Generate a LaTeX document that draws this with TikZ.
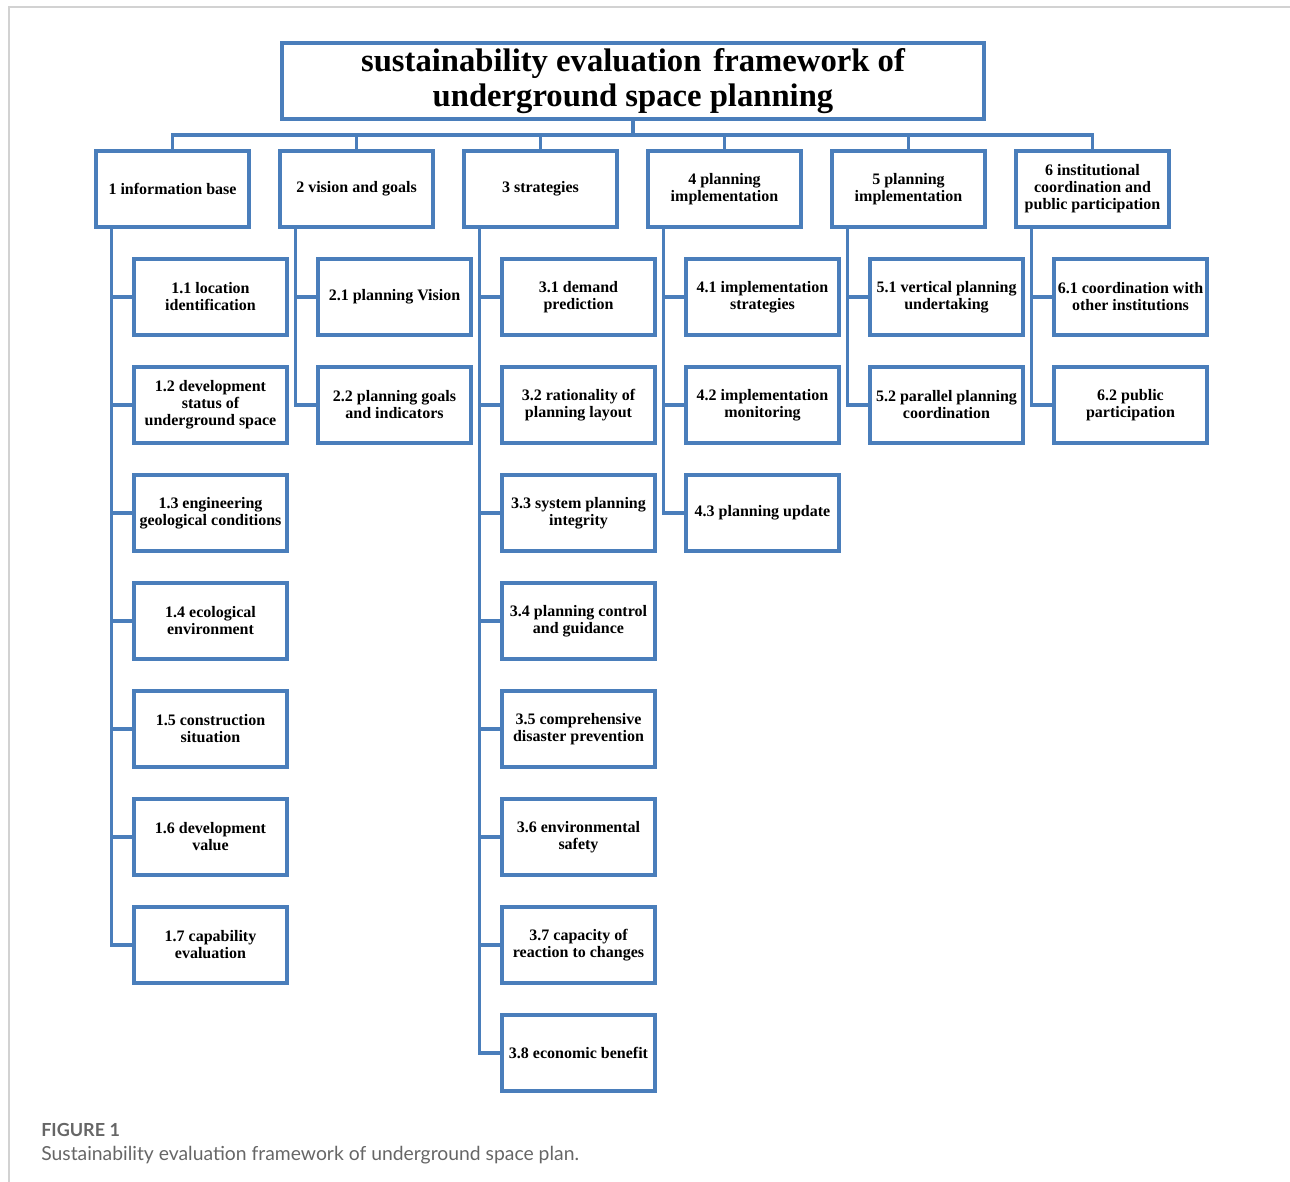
\documentclass[tikz,border=0pt]{standalone}
\usepackage{fontspec}
\setmainfont{Liberation Serif}
\newfontfamily\capfont{Lato}
\usepackage{tikz}
\definecolor{cerceveMavi}{HTML}{4A7EBB}
\definecolor{acikGri}{HTML}{D2D2D2}
\definecolor{yaziGri}{HTML}{666666}

\begin{document}
\begin{tikzpicture}[x=0.75pt,y=-0.75pt,
  kutu/.style={draw=cerceveMavi,line width=2.6pt,fill=white,align=center,
    minimum width=114.75pt,minimum height=57pt,inner xsep=1pt,
    font=\fontsize{12}{12.75}\selectfont\bfseries},
  baglanti/.style={draw=cerceveMavi,line width=2.6pt}]
\useasboundingbox (0,0) rectangle (1290,1182);
\draw[acikGri,line width=1.1pt] (9,1182)--(9,7)--(1290,7);

% ust kutu
\node[kutu,minimum width=526.5pt,font=\fontsize{24.5}{26}\selectfont\bfseries] (top) at (633,81)
  {sustainability evaluation\hspace{0.12em} framework of\\underground space planning};
\coordinate (bus) at (633,135);

% birinci seviye
\node[kutu] (n1) at (172.5,189) {1 information base};
\node[kutu] (n2) at (356.5,189) {2 vision and goals};
\node[kutu] (n3) at (540.5,189) {3 strategies};
\node[kutu] (n4) at (724.5,189) {4 planning\\implementation};
\node[kutu] (n5) at (908.5,189) {5 planning\\implementation};
\node[kutu] (n6) at (1092.5,189) {6 institutional\\coordination and\\public participation};

% ikinci seviye
\node[kutu] (n11) at (210.5,297) {1.1 location\\identification};
\node[kutu] (n12) at (210.5,405) {1.2 development\\status of\\underground space};
\node[kutu] (n13) at (210.5,513) {1.3 engineering\\geological conditions};
\node[kutu] (n14) at (210.5,621) {1.4 ecological\\environment};
\node[kutu] (n15) at (210.5,729) {1.5 construction\\situation};
\node[kutu] (n16) at (210.5,837) {1.6 development\\value};
\node[kutu] (n17) at (210.5,945) {1.7 capability\\evaluation};

\node[kutu] (n21) at (394.5,297) {2.1 planning Vision};
\node[kutu] (n22) at (394.5,405) {2.2 planning goals\\and indicators};

\node[kutu] (n31) at (578.5,297) {3.1 demand\\prediction};
\node[kutu] (n32) at (578.5,405) {3.2 rationality of\\planning layout};
\node[kutu] (n33) at (578.5,513) {3.3 system planning\\integrity};
\node[kutu] (n34) at (578.5,621) {3.4 planning control\\and guidance};
\node[kutu] (n35) at (578.5,729) {3.5 comprehensive\\disaster prevention};
\node[kutu] (n36) at (578.5,837) {3.6 environmental\\safety};
\node[kutu] (n37) at (578.5,945) {3.7 capacity of\\reaction to changes};
\node[kutu] (n38) at (578.5,1053) {3.8 economic benefit};

\node[kutu] (n41) at (762.5,297) {4.1 implementation\\strategies};
\node[kutu] (n42) at (762.5,405) {4.2 implementation\\monitoring};
\node[kutu] (n43) at (762.5,513) {4.3 planning update};

\node[kutu] (n51) at (946.5,297) {5.1 vertical planning\\undertaking};
\node[kutu] (n52) at (946.5,405) {5.2 parallel planning\\coordination};

\node[kutu] (n61) at (1130.5,297) {6.1 coordination with\\other institutions};
\node[kutu] (n62) at (1130.5,405) {6.2 public\\participation};

% baglantilar
\draw[baglanti] (top.south)--(bus);
\draw[baglanti] (n1.north) |- (bus);
\draw[baglanti] (n2.north) |- (bus);
\draw[baglanti] (n3.north) |- (bus);
\draw[baglanti] (n4.north) |- (bus);
\draw[baglanti] (n5.north) |- (bus);
\draw[baglanti] (n6.north) |- (bus);

\draw[baglanti] ([xshift=12.75pt]n1.south west) |- (n11.west);
\draw[baglanti] ([xshift=12.75pt]n1.south west) |- (n12.west);
\draw[baglanti] ([xshift=12.75pt]n1.south west) |- (n13.west);
\draw[baglanti] ([xshift=12.75pt]n1.south west) |- (n14.west);
\draw[baglanti] ([xshift=12.75pt]n1.south west) |- (n15.west);
\draw[baglanti] ([xshift=12.75pt]n1.south west) |- (n16.west);
\draw[baglanti] ([xshift=12.75pt]n1.south west) |- (n17.west);

\draw[baglanti] ([xshift=12.75pt]n2.south west) |- (n21.west);
\draw[baglanti] ([xshift=12.75pt]n2.south west) |- (n22.west);

\draw[baglanti] ([xshift=12.75pt]n3.south west) |- (n31.west);
\draw[baglanti] ([xshift=12.75pt]n3.south west) |- (n32.west);
\draw[baglanti] ([xshift=12.75pt]n3.south west) |- (n33.west);
\draw[baglanti] ([xshift=12.75pt]n3.south west) |- (n34.west);
\draw[baglanti] ([xshift=12.75pt]n3.south west) |- (n35.west);
\draw[baglanti] ([xshift=12.75pt]n3.south west) |- (n36.west);
\draw[baglanti] ([xshift=12.75pt]n3.south west) |- (n37.west);
\draw[baglanti] ([xshift=12.75pt]n3.south west) |- (n38.west);

\draw[baglanti] ([xshift=12.75pt]n4.south west) |- (n41.west);
\draw[baglanti] ([xshift=12.75pt]n4.south west) |- (n42.west);
\draw[baglanti] ([xshift=12.75pt]n4.south west) |- (n43.west);

\draw[baglanti] ([xshift=12.75pt]n5.south west) |- (n51.west);
\draw[baglanti] ([xshift=12.75pt]n5.south west) |- (n52.west);

\draw[baglanti] ([xshift=12.75pt]n6.south west) |- (n61.west);
\draw[baglanti] ([xshift=12.75pt]n6.south west) |- (n62.west);

% alt yazi
\node[anchor=base west,inner sep=0pt,yaziGri,font=\capfont\fontsize{13.5}{15}\selectfont\bfseries] (figno) at (41,1136) {FIGURE 1};
\node[anchor=base west,inner sep=0pt,yaziGri,font=\capfont\fontsize{14.5}{16}\selectfont] (figcap) at (41,1160)
  {Sustainability evaluation framework of underground space plan.};
\end{tikzpicture}
\end{document}
